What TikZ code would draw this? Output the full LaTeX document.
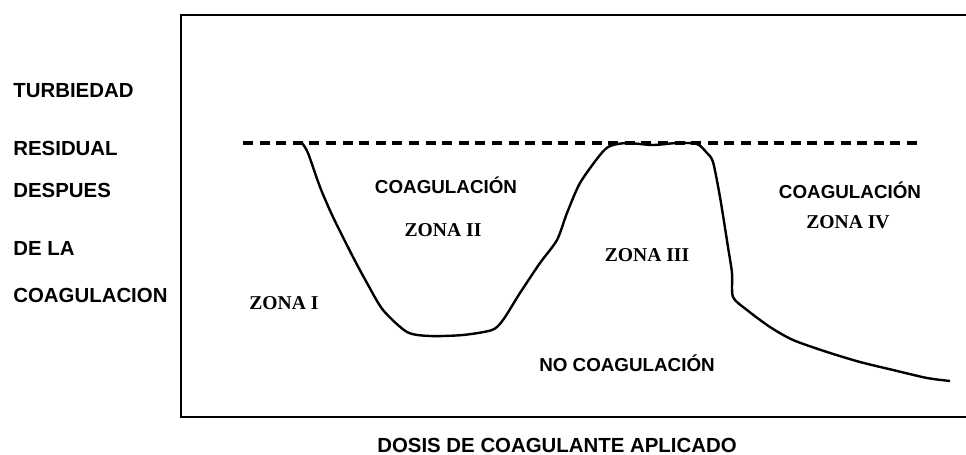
\documentclass[tikz,border=0pt]{standalone}
\usepackage{fontspec}
\setmainfont{Liberation Serif}
\setsansfont{Liberation Sans}
\usetikzlibrary{positioning}

\tikzset{
  eje/.style={font=\sffamily\bfseries\fontsize{10.2}{12}\selectfont},
  rot/.style={font=\sffamily\bfseries\fontsize{9.4}{11}\selectfont},
  zona/.style={font=\rmfamily\bfseries\fontsize{9.8}{11}\selectfont},
}

\begin{document}
\begin{tikzpicture}[x=0.5pt,y=-0.5pt,inner sep=0pt]
\useasboundingbox (0,0) rectangle (966,455);

\draw[line width=1pt] (966,15) -- (181,15) -- (181,417) -- (966,417);

\node(t1)[eje,anchor=west] at (13,91){TURBIEDAD};

\node(t2)[eje,anchor=west] at (13,148){RESIDUAL};

\node(t3)[eje,anchor=west] at (13,190){DESPUES};

\node(t4)[eje,anchor=west] at (13,248){DE LA};

\node(t5)[eje,anchor=west] at (13,295){COAGULACION};

\node(dosis)[eje] at (557,445){DOSIS DE COAGULANTE APLICADO};

\coordinate(lim1) at (243,143);
\coordinate(lim2) at (923,143);
\draw[line width=2pt,dash pattern=on 5pt off 3.3pt] (lim1) -- (lim2);

\draw[line width=1.2pt,line join=round] plot[smooth,tension=0.45] coordinates {
  (302,143) (308,153) (320,187) (333,217) (353,257) (367,283) (383,310)
  (407,332) (430,336) (463,335) (492,330) (503,320) (520,293) (540,263)
  (557,240) (567,213) (580,183) (600,155) (610,146) (627,143) (653,145)
  (677,143) (697,144) (707,153) (713,162) (720,197) (728,247) (732,273)
  (733,297) (747,310) (770,327) (793,340) (827,352) (860,362) (893,370)
  (927,378) (950,381)};

\node(c2)[rot] at (446,185){COAGULACIÓN};

\node(z2)[zona] at (443,230){ZONA II};

\node(z1)[zona] at (284,303){ZONA I};

\node(z3)[zona] at (647,255){ZONA III};

\node(nc)[rot] at (627,363){NO COAGULACIÓN};

\node(c4)[rot] at (850,190){COAGULACIÓN};

\node(z4)[zona] at (848,222){ZONA IV};

\end{tikzpicture}
\end{document}
